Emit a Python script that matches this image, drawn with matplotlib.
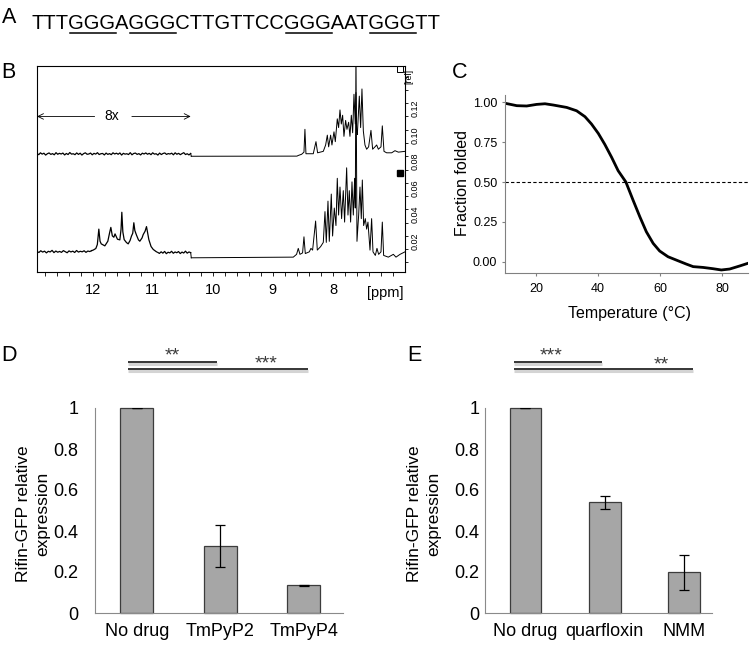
import numpy as np
import matplotlib.pyplot as plt
from matplotlib.lines import Line2D
from matplotlib.font_manager import FontProperties

plt.rcParams['font.family'] = ['Liberation Sans', 'DejaVu Sans']

# ---------------- A: sequence
seq_parts = ['TTT', 'GGG', 'A', 'GGG', 'CTTGTTCC', 'GGG', 'AAT', 'GGG', 'TT']
seq_underline = [False, True, False, True, False, True, False, True, False]

# ---------------- B: 1H NMR traces (ppm, rel)
top_noise = [0.0821, 0.0812, 0.0826, 0.0816, 0.0823, 0.0809, 0.0819, 0.0825, 0.0814, 0.0820,
             0.0811, 0.0827, 0.0815, 0.0822, 0.0817, 0.0824, 0.0810, 0.0821, 0.0813, 0.0828,
             0.0816, 0.0819, 0.0812, 0.0825, 0.0814, 0.0823, 0.0809, 0.0820, 0.0826, 0.0815,
             0.0817, 0.0824, 0.0811, 0.0822, 0.0816, 0.0827, 0.0813, 0.0819, 0.0821, 0.0810,
             0.0824, 0.0814, 0.0820, 0.0812, 0.0826, 0.0817, 0.0823, 0.0815, 0.0825, 0.0809,
             0.0822, 0.0816, 0.0819, 0.0813, 0.0827, 0.0811, 0.0821, 0.0824, 0.0814, 0.0820,
             0.0810, 0.0823, 0.0817, 0.0825, 0.0815, 0.0822, 0.0812, 0.0826, 0.0816, 0.0819,
             0.0809, 0.0824, 0.0813, 0.0821, 0.0825, 0.0814, 0.0820, 0.0817, 0.0823, 0.0811,
             0.0826, 0.0815, 0.0822, 0.0812, 0.0820, 0.0827, 0.0813, 0.0819, 0.0810, 0.0821]
top_ppm = [10.36, 8.60, 8.578, 8.522, 8.483, 8.467, 8.45, 8.328, 8.283, 8.256, 8.161, 8.122,
           8.094, 8.072, 8.039, 8.017, 7.983, 7.961, 7.928, 7.906, 7.883, 7.861, 7.839, 7.817,
           7.789, 7.767, 7.739, 7.717, 7.694, 7.672, 7.65, 7.628, 7.617, 7.606, 7.594, 7.561,
           7.539, 7.517, 7.494, 7.467, 7.439, 7.406, 7.367, 7.339, 7.30, 7.272, 7.244, 7.20,
           7.178, 7.15, 7.106, 7.022, 6.967, 6.911, 6.80]
top_rel = [0.0800, 0.0801, 0.0806, 0.0815, 0.0831, 0.1003, 0.0819, 0.0819, 0.0910, 0.0826, 0.0837, 0.0885,
           0.0959, 0.0871, 0.0959, 0.0885, 0.0984, 0.0910, 0.1082, 0.1016, 0.1149, 0.1043, 0.1109, 0.0950,
           0.1070, 0.1003, 0.1056, 0.0950, 0.1109, 0.0977, 0.1267, 0.1043, 0.1280, 0.0990, 0.0964, 0.1253,
           0.1016, 0.1307, 0.0990, 0.0885, 0.0853, 0.0871, 0.0995, 0.0853, 0.0871, 0.0885, 0.0853, 0.0871,
           0.1029, 0.0837, 0.0826, 0.0826, 0.0842, 0.0831, 0.0837]

bot_noise_left = [0.0083, 0.0075, 0.0088, 0.0078, 0.0085, 0.0072, 0.0084, 0.0079, 0.0091, 0.0074,
                  0.0086, 0.0077, 0.0083, 0.0076, 0.0089, 0.0081, 0.0073, 0.0087, 0.0079, 0.0085,
                  0.0075, 0.0090, 0.0078, 0.0084, 0.0080, 0.0088, 0.0076, 0.0086, 0.0082, 0.0089]
bot_imino_ppm = [11.994, 11.95, 11.925, 11.90, 11.88, 11.86, 11.80, 11.75, 11.72, 11.70, 11.675,
                 11.65, 11.63, 11.59, 11.55, 11.53, 11.517, 11.50, 11.478, 11.44, 11.411, 11.38,
                 11.356, 11.335, 11.317, 11.30, 11.272, 11.24, 11.217, 11.18, 11.161, 11.13, 11.106,
                 11.09, 11.067, 11.03, 10.994, 10.94]
bot_imino_rel = [0.0093, 0.0105, 0.0135, 0.0251, 0.0160, 0.0140, 0.0125, 0.0160, 0.0225, 0.0264, 0.0200,
                 0.0190, 0.0215, 0.0175, 0.0170, 0.0250, 0.0378, 0.0230, 0.0172, 0.0150, 0.0140, 0.0165,
                 0.0199, 0.0220, 0.0299, 0.0240, 0.0205, 0.0170, 0.0160, 0.0185, 0.0210, 0.0235, 0.0270,
                 0.0230, 0.0172, 0.0120, 0.0098, 0.0080]
bot_noise_right = [0.0076, 0.0068, 0.0080, 0.0070, 0.0083, 0.0066, 0.0077, 0.0072, 0.0084, 0.0069,
                   0.0079, 0.0073, 0.0082, 0.0067, 0.0078, 0.0071, 0.0085, 0.0070, 0.0079, 0.0074]
bot_ppm = [10.36, 8.661, 8.606, 8.578, 8.55, 8.506, 8.483, 8.461, 8.394, 8.367, 8.339, 8.289, 8.261,
           8.206, 8.161, 8.133, 8.111, 8.083, 8.061, 8.028, 8.006, 7.978, 7.95, 7.928, 7.906, 7.883,
           7.856, 7.828, 7.806, 7.772, 7.75, 7.728, 7.706, 7.683, 7.661, 7.639, 7.628, 7.617, 7.60,
           7.572, 7.55, 7.528, 7.511, 7.489, 7.461, 7.439, 7.417, 7.383, 7.356, 7.333, 7.294, 7.267,
           7.239, 7.20, 7.178, 7.156, 7.078, 6.994, 6.95, 6.883, 6.80]
bot_rel = [0.0035, 0.0040, 0.0061, 0.0106, 0.0061, 0.0072, 0.0193, 0.0067, 0.0080, 0.0106, 0.0093, 0.0312, 0.0093,
           0.0119, 0.0151, 0.0383, 0.0151, 0.0462, 0.0159, 0.0515, 0.0199, 0.0410, 0.0278, 0.0634, 0.0357, 0.0568,
           0.0330, 0.0541, 0.0304, 0.0713, 0.0357, 0.0541, 0.0304, 0.0607, 0.0357, 0.0634, 0.0410, 0.1600, 0.0159,
           0.0357, 0.0568, 0.0330, 0.0621, 0.0278, 0.0330, 0.0251, 0.0304, 0.0093, 0.0330, 0.0080, 0.0053, 0.0106,
           0.0061, 0.0080, 0.0304, 0.0053, 0.0040, 0.0061, 0.0040, 0.0061, 0.0080]

marker_ppm = 6.88
open_marker_rel = 0.146
filled_marker_rel = 0.0675

# ---------------- C: melting curve
temps = [10.3, 13.8, 17.0, 20.2, 22.9, 25.6, 29.9, 33.1, 35.8, 37.9, 40.1, 42.2, 44.4, 46.5, 49.0,
         51.3, 53.5, 55.6, 57.8, 59.9, 62.6, 65.8, 68.5, 70.7, 73.9, 77.1, 79.8, 82.5, 85.7, 88.4]
fraction = [0.993, 0.979, 0.977, 0.987, 0.991, 0.983, 0.968, 0.947, 0.910, 0.864, 0.805, 0.736, 0.655,
            0.571, 0.500, 0.387, 0.282, 0.188, 0.115, 0.067, 0.031, 0.006, -0.015, -0.031, -0.036,
            -0.044, -0.052, -0.046, -0.027, -0.010]

# ---------------- D / E: bar charts
drugs_d = ['No drug', 'TmPyP2', 'TmPyP4']
expr_d = [1.0, 0.326, 0.135]
err_d = [0.0, 0.102, 0.004]
drugs_e = ['No drug', 'quarfloxin', 'NMM']
expr_e = [1.0, 0.540, 0.198]
err_e = [0.0, 0.031, 0.084]
# (x0, x1, y, label, label_x, label_y)
sig_d = [(-0.104, 0.962, 1.223, '**', 0.425, 1.233), (-0.104, 2.05, 1.189, '***', 1.553, 1.194)]
sig_e = [(-0.145, 0.958, 1.223, '***', 0.318, 1.230), (-0.145, 2.11, 1.189, '**', 1.717, 1.186)]

W, H = 750, 645
fig = plt.figure(figsize=(7.5, 6.45), dpi=100)


def rect(x0, y0, x1, y1):
    return [x0 / W, 1 - y1 / H, (x1 - x0) / W, (y1 - y0) / H]


def ftext(x, y, s, **kw):
    return fig.text(x / W, 1 - y / H, s, **kw)


# panel letters
for letter, lx, ly in [('A', 2, 7), ('B', 1, 62), ('C', 452, 62), ('D', 1, 345), ('E', 407, 345)]:
    ftext(lx, ly, letter, fontsize=15.5, va='top', ha='left')

# ---- A
seq = ''.join(seq_parts)
ftext(32, 29, seq, fontsize=14.5, va='baseline')
renderer = fig.canvas.get_renderer()
prop = FontProperties(family=['Liberation Sans', 'DejaVu Sans'], size=14.5)
pos = 0
for part, ul in zip(seq_parts, seq_underline):
    if ul:
        w0 = renderer.get_text_width_height_descent(seq[:pos], prop, False)[0] if pos else 0
        w1 = renderer.get_text_width_height_descent(seq[:pos + len(part)], prop, False)[0]
        fig.add_artist(Line2D([(32 + w0 + 1) / W, (32 + w1) / W], [1 - 33 / H] * 2, color='k', lw=1.1))
    pos += len(part)

# ---- B
axB = fig.add_axes(rect(37, 66, 405, 272))
axB.plot(np.linspace(12.93, 10.37, len(top_noise)), top_noise, color='k', lw=0.9)
axB.plot(top_ppm, top_rel, color='k', lw=0.7)
axB.plot(np.linspace(12.93, 12.02, len(bot_noise_left)), bot_noise_left, color='k', lw=0.9)
axB.plot([12.02] + bot_imino_ppm, [bot_noise_left[-1]] + bot_imino_rel, color='k', lw=0.9)
axB.plot(np.linspace(10.92, 10.37, len(bot_noise_right)), bot_noise_right, color='k', lw=0.9)
axB.plot(bot_ppm, bot_rel, color='k', lw=0.7)
axB.plot([10.37, 10.36], [bot_noise_right[-1], bot_rel[0]], color='k', lw=0.7)
axB.plot([10.37, 10.36], [top_noise[-1], top_rel[0]], color='k', lw=0.7)
axB.plot(marker_ppm, open_marker_rel, marker='s', ms=4.5, mfc='white', mec='k', mew=0.7)
axB.plot(marker_ppm, filled_marker_rel, marker='s', ms=5, mfc='k', mec='k')
axB.set_xlim(12.93, 6.80)
axB.set_ylim(-0.0072, 0.148)
axB.set_xticks([12, 11, 10, 9, 8])
axB.set_xticks(np.arange(7.0, 12.9, 0.2), minor=True)
axB.xaxis.set_major_formatter('{x:.0f}')
axB.tick_params(axis='x', which='both', direction='out', length=3, width=0.6, labelsize=10.5, pad=5)
axB.yaxis.tick_right()
axB.set_yticks([0.02, 0.04, 0.06, 0.08, 0.10, 0.12])
axB.set_yticks(np.arange(0.0, 0.145, 0.01), minor=True)
axB.yaxis.set_major_formatter('{x:.2f}')
axB.tick_params(axis='y', which='both', direction='out', length=2.5, width=0.6, labelsize=6.5,
                labelrotation=90, pad=1.5)
for s in axB.spines.values():
    s.set_linewidth(0.8)
axB.annotate('', xy=(12.93, 0.110), xytext=(11.97, 0.110),
             arrowprops=dict(arrowstyle='->', lw=0.6, color='k', shrinkA=0, shrinkB=0))
axB.annotate('', xy=(10.37, 0.110), xytext=(11.35, 0.110),
             arrowprops=dict(arrowstyle='->', lw=0.6, color='k', shrinkA=0, shrinkB=0))
axB.text(11.68, 0.110, '8x', ha='center', va='center', fontsize=10)
ftext(385, 293, '[ppm]', ha='center', va='center', fontsize=10.5)
ftext(409, 76, '[rel]', ha='center', va='center', fontsize=6.5, rotation=90)

# ---- C
axC = fig.add_axes(rect(505, 95, 748, 273))
axC.plot(temps, fraction, color='k', lw=2)
axC.axhline(0.5, color='k', lw=0.8, ls=(0, (3, 2)))
axC.set_xlim(10, 88.4)
axC.set_ylim(-0.071, 1.046)
axC.set_xticks([20, 40, 60, 80])
axC.set_yticks([0, 0.25, 0.5, 0.75, 1.0])
axC.yaxis.set_major_formatter('{x:.2f}')
for side in ['top', 'right']:
    axC.spines[side].set_visible(False)
for side in ['left', 'bottom']:
    axC.spines[side].set_color('#808080')
    axC.spines[side].set_linewidth(0.8)
axC.tick_params(direction='out', length=2.5, width=0.8, color='#808080', labelsize=9)
axC.tick_params(axis='x', pad=5)
axC.tick_params(axis='y', pad=3)
ftext(630, 313, 'Temperature (°C)', ha='center', va='center', fontsize=11.5)
ftext(463, 183, 'Fraction folded', ha='center', va='center', fontsize=11.5, rotation=90)


# ---- D / E
def bar_panel(box, names, vals, errs, sigs, xlim, ypad, lab_x):
    ax = fig.add_axes(rect(*box))
    ax.bar(range(len(names)), vals, width=0.4, color='#a6a6a6', edgecolor='#3c3c3c', lw=0.9,
           yerr=errs, capsize=3.5, clip_on=False,
           error_kw=dict(elinewidth=0.9, capthick=0.9, ecolor='k'))
    ax.set_xlim(*xlim)
    ax.set_ylim(0, 1)
    ax.set_yticks([0, 0.2, 0.4, 0.6, 0.8, 1.0])
    ax.set_yticklabels(['0', '0.2', '0.4', '0.6', '0.8', '1'])
    ax.set_xticks(range(len(names)))
    ax.set_xticklabels(names)
    for side in ['top', 'right']:
        ax.spines[side].set_visible(False)
    for side in ['left', 'bottom']:
        ax.spines[side].set_color('#8a8a8a')
        ax.spines[side].set_linewidth(0.8)
    ax.tick_params(length=0, labelsize=13)
    ax.tick_params(axis='x', pad=7)
    ax.tick_params(axis='y', pad=ypad)
    for x0, x1, y, lab, tx, ty in sigs:
        ax.plot([x0, x1], [y - 0.008, y - 0.008], color='#d4d4d4', lw=2.2, clip_on=False,
                solid_capstyle='butt')
        ax.plot([x0, x1], [y, y], color='k', lw=1.1, clip_on=False, solid_capstyle='butt')
        ax.text(tx, ty, lab, ha='center', va='baseline', fontsize=14, color='#3a3a3a')
    ftext(lab_x, 514, 'Rifin-GFP relative\nexpression', ha='center', va='center', rotation=90,
          multialignment='center', fontsize=12.5, linespacing=1.3)
    return ax


bar_panel((95, 408, 343, 613), drugs_d, expr_d, err_d, sig_d, (-0.5, 2.47), 12, 33)
bar_panel((485, 408, 712, 613), drugs_e, expr_e, err_e, sig_e, (-0.51, 2.35), 4, 424)

fig.savefig('out.png', dpi=100)
